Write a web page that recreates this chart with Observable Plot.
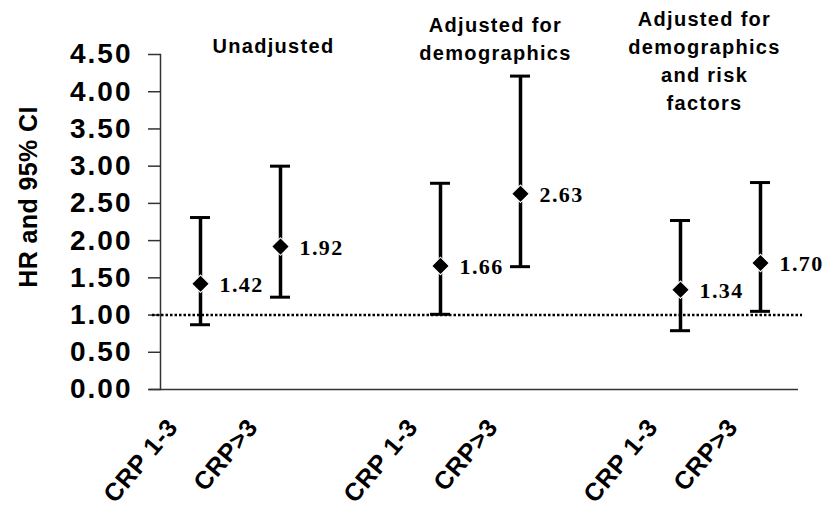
<!DOCTYPE html>
<html>
<head>
<meta charset="utf-8">
<script src="https://cdn.jsdelivr.net/npm/d3@7"></script>
<script src="https://cdn.jsdelivr.net/npm/@observablehq/plot@0.6"></script>
<style>
  html, body { margin: 0; padding: 0; background: #fff; }
  #chart svg { display: block; }
  .ytick text { letter-spacing: 2px; }
  .title text { letter-spacing: 1.3px; }
  .vlabel text { letter-spacing: 1.4px; }
  .ylab text { letter-spacing: 0.4px; }
  .xlabel text { letter-spacing: 0.6px; }
</style>
</head>
<body>
<div id="chart"></div>
<script>
// ---- data ----
const groups = ["Unadjusted", "Adjusted for demographics", "Adjusted for demographics and risk factors"];
const groupTitleLines = [["Unadjusted"], ["Adjusted for", "demographics"], ["Adjusted for", "demographics", "and risk", "factors"]];
const categories = ["CRP 1-3", "CRP>3"];
const hr    = [1.42, 1.92, 1.66, 2.63, 1.34, 1.70];
const lower = [0.87, 1.24, 1.01, 1.65, 0.79, 1.05];
const upper = [2.31, 3.00, 2.77, 4.21, 2.27, 2.78];
const yTicks = [0, 0.5, 1, 1.5, 2, 2.5, 3, 3.5, 4, 4.5];
const referenceHR = [1];
const yLabel = "HR and 95% CI";

// ---- build rows ----
const rows = [];
groups.forEach((g, gi) => categories.forEach((c, ci) => {
  const i = gi * categories.length + ci;
  rows.push({key: `${g}|${c}`, group: g, cat: c, hr: hr[i], lo: lower[i], hi: upper[i]});
}));
const domain = [];
groups.forEach((g, gi) => {
  categories.forEach(c => domain.push(`${g}|${c}`));
  if (gi < groups.length - 1) domain.push(`gap${gi}`);
});
const titles = groups.map((g, gi) => ({key: `${g}|${categories[1]}`, text: groupTitleLines[gi].join("\n")}));

const sans = "'Liberation Sans', Arial, sans-serif";
const serif = "'Liberation Serif', 'Times New Roman', serif";
const fmt = d3.format(".2f");

const titleMark = (t, dx, dy) => Plot.text([t], {
  x: "key", text: "text", frameAnchor: "top", lineAnchor: "top",
  textAnchor: "middle", dx, dy, fontSize: 20, fontWeight: "bold",
  fontFamily: sans, lineHeight: 1.41, fill: "#000", className: "title"
});

const chart = Plot.plot({
  width: 825,
  height: 508,
  marginLeft: 160,
  marginRight: 25,
  marginTop: 54,
  marginBottom: 119,
  style: {fontFamily: sans, background: "#fff", overflow: "visible"},
  x: {type: "band", domain, padding: 0, axis: null},
  y: {domain: [0, 4.5], axis: null},
  marks: [
    // axes lines
    Plot.ruleY([0], {stroke: "#333", strokeWidth: 1.5, insetLeft: -11, insetRight: 2}),
    Plot.frame({anchor: "left", stroke: "#333", strokeWidth: 1.5}),
    Plot.axisY({
      ticks: yTicks, tickSize: 12, tickPadding: 16, tickFormat: fmt,
      fontSize: 28, fontWeight: "bold", fill: "#000", stroke: "#333", strokeWidth: 1.5,
      label: null, className: "ytick"
    }),
    Plot.text([yLabel], {
      frameAnchor: "left", rotate: -90, text: d => d, textAnchor: "middle", lineAnchor: "middle",
      dx: -132, dy: -25,
      fontSize: 25, fontWeight: "bold", fill: "#000", fontFamily: sans, className: "ylab"
    }),
    // reference line
    Plot.ruleY(referenceHR, {stroke: "#000", strokeWidth: 2.5, strokeDasharray: "2.5,2", insetLeft: -8, insetRight: -2}),
    // CI bars
    Plot.ruleX(rows, {x: "key", y1: "lo", y2: "hi", stroke: "#000", strokeWidth: 3.5}),
    Plot.tickY(rows, {x: "key", y: "lo", stroke: "#000", strokeWidth: 3, insetLeft: 30, insetRight: 30}),
    Plot.tickY(rows, {x: "key", y: "hi", stroke: "#000", strokeWidth: 3, insetLeft: 30, insetRight: 30}),
    // points
    Plot.dot(rows, {x: "key", y: "hr", symbol: "square", rotate: 45, r: 7, fill: "#000", stroke: "#fff", strokeWidth: 1}),
    // value labels
    Plot.text(rows, {
      x: "key", y: "hr", text: d => fmt(d.hr), dx: 19, dy: 1, textAnchor: "start",
      fontSize: 22, fontWeight: "bold", fontFamily: serif, fill: "#000", className: "vlabel"
    }),
    // x labels
    Plot.text(rows, {
      x: "key", text: "cat", frameAnchor: "bottom", rotate: -50, textAnchor: "end", lineAnchor: "top",
      dx: -35, dy: 27, fontSize: 25, fontWeight: "bold", fontFamily: sans, fill: "#000", className: "xlabel"
    }),
    // group titles
    titleMark(titles[0], -7, -22),
    titleMark(titles[1], -25, -43),
    titleMark(titles[2], -56, -49)
  ]
});
document.getElementById("chart").appendChild(chart);
</script>
</body>
</html>
